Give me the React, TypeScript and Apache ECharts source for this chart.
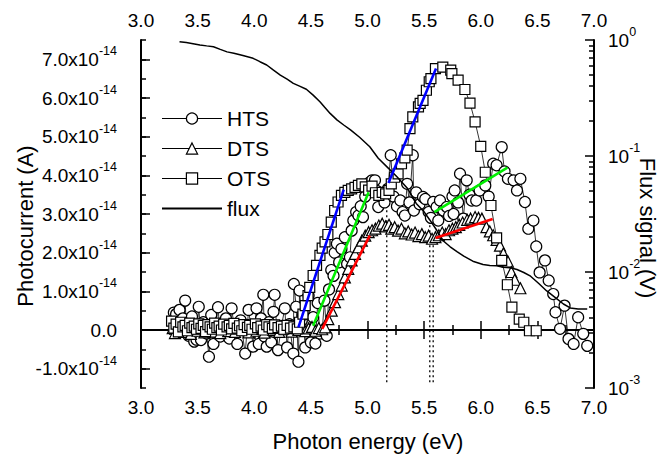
import React, { useEffect, useRef } from "react";
import * as echarts from "echarts";

const FONT = '"Liberation Sans", Arial, Helvetica, sans-serif';

// Photocurrent in units of 1e-14 A versus photon energy (eV)
const htsPoints: [number, number][] = [
  [3.29, 0.45], [3.31, 0.41], [3.33, 0.2], [3.34, 0.52], [3.37, 0.3], [3.39, 0.76], [3.4, 0.09], [3.42, -0.15],
  [3.45, 0.35], [3.47, -0.3], [3.49, -0.25], [3.51, 0.6], [3.53, -0.26], [3.55, 0.2], [3.58, -0.09], [3.6, -0.69],
  [3.62, 0.39], [3.64, -0.36], [3.66, 0.1], [3.68, 0.59], [3.7, -0.17], [3.72, 0.0], [3.75, 0.3], [3.78, -0.22],
  [3.8, 0.56], [3.82, 0.15], [3.85, -0.36], [3.88, 0.25], [3.92, -0.61], [3.95, 0.52], [3.97, 0.1], [3.99, -0.43],
  [4.02, 0.56], [4.04, -0.36], [4.06, 0.3], [4.08, 0.91], [4.09, -0.17], [4.11, -0.43], [4.13, 0.2], [4.15, -0.32],
  [4.17, 0.47], [4.18, 0.91], [4.21, -0.52], [4.24, 0.1], [4.27, 0.56], [4.29, -0.45], [4.31, 0.15], [4.345, -0.61],
  [4.35, 1.19], [4.37, 0.6], [4.39, -0.82], [4.4, 1.02], [4.42, 0.25], [4.43, 0.39], [4.45, -0.45], [4.48, 0.89],
  [4.5, -0.32], [4.52, 0.33], [4.54, -0.35], [4.56, 0.7], [4.58, -0.09], [4.6, -0.02], [4.62, 0.76], [4.64, -0.15],
  [4.66, 1.05], [4.68, 1.55], [4.7, 1.4], [4.71, 2.0], [4.73, 2.23], [4.75, 1.75], [4.77, 2.1], [4.8, 2.4],
  [4.82, 1.71], [4.845, 1.88], [4.86, 2.57], [4.875, 2.83], [4.9, 3.05], [4.92, 2.96], [4.94, 3.2], [4.96, 2.92],
  [4.98, 3.45], [5.0, 3.7], [5.02, 3.82], [5.04, 3.87], [5.066, 3.87], [5.08, 3.6], [5.095, 3.18], [5.12, 3.5],
  [5.15, 3.3], [5.18, 3.65], [5.205, 4.52], [5.23, 3.45], [5.26, 3.2], [5.29, 3.35], [5.31, 3.05], [5.33, 2.96],
  [5.35, 3.78], [5.37, 3.3], [5.4, 4.52], [5.41, 3.09], [5.43, 3.56], [5.46, 3.25], [5.49, 3.44], [5.51, 3.39],
  [5.54, 3.05], [5.56, 2.9], [5.58, 3.31], [5.61, 3.18], [5.625, 2.83], [5.64, 3.35], [5.67, 3.09], [5.7, 3.18],
  [5.72, 2.95], [5.75, 3.45], [5.76, 3.0], [5.77, 3.61], [5.8, 3.3], [5.817, 4.04], [5.846, 2.88], [5.876, 3.87],
  [5.9, 3.5], [5.92, 3.35], [5.96, 3.35], [5.99, 3.61], [6.04, 3.74], [6.07, 3.45], [6.11, 4.3], [6.14, 4.26],
  [6.185, 4.73], [6.21, 4.1], [6.24, 3.91], [6.29, 3.87], [6.32, 3.61], [6.35, 3.91], [6.39, 3.31], [6.42, 2.62],
  [6.465, 2.83], [6.49, 2.16], [6.52, 1.49], [6.567, 1.8], [6.6, 1.28], [6.64, 0.93], [6.66, 0.46], [6.7, 0.03],
  [6.74, 0.63], [6.775, -0.23], [6.82, -0.36], [6.86, 0.33], [6.905, -0.1], [6.94, -0.41],
];

const dtsPoints: [number, number][] = [
  [3.28, 0.05], [3.3, -0.08], [3.32, 0.1], [3.34, 0.0], [3.36, 0.12], [3.38, -0.05], [3.4, 0.08], [3.42, 0.02],
  [3.44, -0.1], [3.46, 0.06], [3.48, 0.12], [3.5, -0.02], [3.52, 0.04], [3.54, 0.1], [3.56, -0.06], [3.58, 0.08],
  [3.6, 0.0], [3.62, 0.13], [3.64, -0.04], [3.66, 0.06], [3.68, 0.1], [3.7, -0.08], [3.72, 0.03], [3.74, 0.09],
  [3.77, -0.03], [3.79, 0.07], [3.81, 0.11], [3.83, -0.05], [3.86, 0.04], [3.88, 0.09], [3.9, 0.0], [3.92, 0.12],
  [3.95, -0.06], [3.97, 0.05], [3.99, 0.08], [4.02, -0.02], [4.04, 0.1], [4.07, 0.03], [4.09, -0.07], [4.12, 0.06],
  [4.14, 0.11], [4.17, 0.0], [4.19, 0.04], [4.22, -0.05], [4.25, 0.08], [4.27, 0.02], [4.3, 0.1], [4.33, -0.04],
  [4.36, 0.05], [4.39, 0.0], [4.42, 0.07], [4.45, -0.03], [4.48, 0.04], [4.51, 0.08], [4.54, -0.02], [4.57, 0.05],
  [4.6, 0.02], [4.625, 0.07], [4.654, 0.28], [4.684, 0.5], [4.713, 0.72], [4.742, 0.93], [4.772, 1.15], [4.8, 1.36],
  [4.83, 1.58], [4.86, 1.8], [4.89, 1.97], [4.92, 2.14], [4.95, 2.31], [4.98, 2.44], [5.01, 2.53], [5.04, 2.58],
  [5.07, 2.62], [5.1, 2.7], [5.13, 2.75], [5.16, 2.68], [5.19, 2.72], [5.21, 2.62], [5.24, 2.66], [5.27, 2.57],
  [5.3, 2.62], [5.33, 2.5], [5.36, 2.55], [5.39, 2.47], [5.42, 2.52], [5.45, 2.43], [5.48, 2.48], [5.51, 2.4],
  [5.54, 2.44], [5.57, 2.36], [5.6, 2.4], [5.63, 2.45], [5.66, 2.52], [5.69, 2.48], [5.72, 2.58], [5.75, 2.62],
  [5.78, 2.66], [5.81, 2.72], [5.84, 2.78], [5.88, 2.85], [5.91, 2.88], [5.95, 2.92], [5.98, 2.9], [6.01, 2.88],
  [6.05, 2.66], [6.08, 2.55], [6.11, 2.45], [6.14, 2.33], [6.17, 2.18], [6.2, 1.98], [6.24, 1.77], [6.27, 1.5],
  [6.3, 1.3], [6.35, 1.08],
];

const otsPoints: [number, number][] = [
  [3.27, 0.23], [3.29, 0.05], [3.31, 0.15], [3.33, -0.05], [3.35, 0.2], [3.37, 0.08], [3.39, 0.12], [3.41, -0.02],
  [3.43, 0.18], [3.45, 0.06], [3.47, 0.1], [3.49, 0.02], [3.51, 0.16], [3.53, 0.04], [3.55, 0.12], [3.57, -0.04],
  [3.59, 0.14], [3.61, 0.08], [3.63, 0.02], [3.65, 0.18], [3.67, 0.06], [3.69, 0.1], [3.71, 0.0], [3.73, 0.15],
  [3.76, 0.08], [3.78, 0.12], [3.8, 0.03], [3.82, 0.17], [3.85, 0.05], [3.87, 0.11], [3.89, -0.02], [3.91, 0.14],
  [3.94, 0.07], [3.96, 0.12], [3.98, 0.02], [4.01, 0.16], [4.03, 0.06], [4.06, 0.1], [4.08, 0.0], [4.11, 0.14],
  [4.13, 0.08], [4.16, 0.04], [4.18, 0.13], [4.21, 0.06], [4.24, 0.1], [4.26, 0.02], [4.29, 0.12], [4.32, 0.05],
  [4.35, 0.08], [4.38, 0.03], [4.4, 0.2], [4.43, 0.41], [4.45, 0.63], [4.475, 0.89], [4.49, 1.1], [4.52, 1.41],
  [4.55, 1.67], [4.58, 1.93], [4.6, 2.12], [4.625, 2.28], [4.65, 2.47], [4.68, 2.79], [4.71, 3.09], [4.74, 3.31],
  [4.77, 3.48], [4.8, 3.56], [4.83, 3.61], [4.86, 3.65], [4.89, 3.69], [4.92, 3.74], [4.95, 3.78], [4.98, 3.7],
  [5.01, 3.62], [5.04, 3.72], [5.07, 3.55], [5.1, 3.48], [5.13, 3.56], [5.16, 3.52], [5.19, 3.61], [5.21, 3.78],
  [5.24, 3.95], [5.27, 4.04], [5.3, 4.3], [5.33, 4.45], [5.35, 4.65], [5.375, 5.21], [5.4, 5.51], [5.45, 5.77],
  [5.465, 5.86], [5.49, 5.94], [5.52, 6.2], [5.545, 6.42], [5.56, 6.5], [5.6, 6.76], [5.665, 6.8], [5.735, 6.72],
  [5.745, 6.63], [5.8, 6.46], [5.86, 6.22], [5.905, 5.87], [5.95, 5.38], [6.0, 4.75], [6.04, 4.08], [6.09, 3.22],
  [6.14, 2.38], [6.185, 1.8], [6.235, 1.17], [6.275, 0.59], [6.34, 0.28], [6.38, 0.2], [6.43, -0.02], [6.49, -0.02],
];

// Flux signal (V) versus photon energy (eV), right log axis
const fluxPoints: [number, number][] = [
  [3.34, 0.967], [3.4, 0.95], [3.46, 0.93], [3.52, 0.906], [3.58, 0.89], [3.64, 0.875], [3.7, 0.83], [3.76, 0.79],
  [3.82, 0.768], [3.9, 0.735], [3.99, 0.695], [4.05, 0.65], [4.11, 0.609], [4.17, 0.55], [4.23, 0.499], [4.29, 0.46],
  [4.345, 0.423], [4.4, 0.4], [4.46, 0.376], [4.52, 0.335], [4.58, 0.294], [4.62, 0.265], [4.67, 0.233], [4.73, 0.205],
  [4.79, 0.185], [4.85, 0.168], [4.93, 0.145], [5.02, 0.12], [5.095, 0.0955], [5.17, 0.081], [5.26, 0.0663], [5.35, 0.053],
  [5.43, 0.039], [5.5, 0.033], [5.55, 0.0281], [5.61, 0.023], [5.67, 0.0185], [5.73, 0.0165], [5.79, 0.015], [5.85, 0.0137],
  [5.93, 0.0124], [6.02, 0.0116], [6.08, 0.0114], [6.14, 0.0113], [6.2, 0.011], [6.26, 0.0109], [6.32, 0.0105], [6.38, 0.0099],
  [6.44, 0.0092], [6.51, 0.008], [6.58, 0.0069], [6.65, 0.0061], [6.73, 0.0053], [6.79, 0.0049], [6.86, 0.0048], [6.94, 0.0048],
];

// Linear fits (start and end point of each segment), in eV and 1e-14 A
const blueFits: [number, number][][] = [
  [[4.39, 0.07], [4.79, 3.63]],
  [[5.185, 3.8], [5.605, 6.76]],
];
const greenFits: [number, number][][] = [
  [[4.52, 0.11], [5.01, 3.56]],
  [[5.59, 3.05], [6.235, 4.2]],
];
const redFits: [number, number][][] = [
  [[4.6, 0.03], [5.02, 2.44]],
  [[5.6, 2.38], [6.105, 2.87]],
];

// Dotted threshold guides
const guideEnergies = [5.17, 5.55, 5.58];
const guideTops = [3.7, 3.0, 2.4];
const guideBottom = -1.35;

// Tick values
const currentMajorTicks = [-1, 0, 1, 2, 3, 4, 5, 6, 7];
const fluxDecades = [-3, -2, -1];
const fluxMinorMultiples = [2, 3, 4, 5, 6, 7, 8, 9];

const BLACK = "#000";
const axisLineStyle = { show: true, lineStyle: { color: BLACK, width: 2 } };
const tickLine = { color: BLACK, width: 1.5 };
const rich = {
  b: { fontSize: 19, fontFamily: FONT, color: BLACK },
  s: { fontSize: 12.5, fontFamily: FONT, color: BLACK, padding: [0, 0, 16, 0] },
};

function buildOption() {
  const fluxMinorValues = fluxDecades.flatMap((d) => fluxMinorMultiples.map((m) => d + Math.log10(m)));

  const xBase = (position: "top" | "bottom") => ({
    type: "value",
    position,
    min: 3,
    max: 7,
    interval: 0.5,
    axisLine: axisLineStyle,
    axisTick: { show: true, inside: true, length: 9, lineStyle: tickLine },
    minorTick: { show: true, splitNumber: 2, length: 5, lineStyle: tickLine },
    axisLabel: {
      color: BLACK,
      fontSize: 19,
      fontFamily: FONT,
      margin: 10,
      formatter: (v: number) => v.toFixed(1),
    },
    splitLine: { show: false },
    minorSplitLine: { show: false },
  });

  const markerSeries = (name: string, pts: [number, number][], symbol: string, size: number, z: number) => ({
    type: "line",
    name,
    data: pts,
    xAxisIndex: 0,
    yAxisIndex: 0,
    symbol,
    symbolSize: size,
    showSymbol: true,
    lineStyle: { color: BLACK, width: 0.8 },
    itemStyle: { color: "#fff", borderColor: BLACK, borderWidth: 1.2 },
    emphasis: { disabled: true },
    z,
  });

  const fitSeries = (fits: [number, number][][], color: string, key: string) =>
    fits.map((seg, k) => ({
      type: "line",
      name: key + k,
      data: seg,
      xAxisIndex: 0,
      yAxisIndex: 0,
      symbol: "none",
      lineStyle: { color, width: 2.6 },
      emphasis: { disabled: true },
      z: 5,
    }));

  return {
    animation: false,
    backgroundColor: "#fff",
    textStyle: { fontFamily: FONT },
    grid: { left: 141, right: 65, top: 40, bottom: 68, containLabel: false, outerBoundsMode: "none" },
    legend: {
      left: 161,
      top: 108,
      orient: "vertical",
      padding: 0,
      itemWidth: 60,
      itemHeight: 14,
      itemGap: 9,
      selectedMode: false,
      itemStyle: { borderWidth: 1.2 },
      lineStyle: { width: 1.2 },
      textStyle: { fontSize: 21, lineHeight: 21, color: BLACK, fontFamily: FONT },
      data: [
        "HTS",
        "DTS",
        "OTS",
        { name: "flux", itemStyle: { opacity: 0 }, lineStyle: { width: 2 } },
      ],
    },
    xAxis: [xBase("bottom"), xBase("top")],
    yAxis: [
      {
        type: "value",
        position: "left",
        min: -1.5,
        max: 7.5,
        interval: 0.5,
        axisLine: axisLineStyle,
        axisTick: { show: true, inside: true, length: 5, lineStyle: tickLine },
        axisLabel: {
          margin: 24,
          color: BLACK,
          fontSize: 19,
          fontFamily: FONT,
          rich,
          formatter: (v: number) => {
            if (Math.abs(v - Math.round(v)) > 1e-6) return "";
            if (Math.abs(v) < 1e-9) return "{b|0.0}";
            return `{b|${v.toFixed(1)}x10}{s|-14}`;
          },
        },
        splitLine: { show: false },
      },
      {
        type: "value",
        position: "left",
        min: -1.5,
        max: 7.5,
        axisLine: { show: false },
        axisTick: { show: true, inside: true, length: 9, lineStyle: tickLine, customValues: currentMajorTicks },
        axisLabel: { show: false },
        splitLine: { show: false },
      },
      {
        type: "log",
        logBase: 10,
        position: "right",
        min: 0.001,
        max: 1,
        splitNumber: 3,
        axisLine: axisLineStyle,
        axisTick: { show: true, inside: true, length: 9, lineStyle: tickLine },
        minorTick: { show: false },
        axisLabel: {
          margin: 14,
          color: BLACK,
          fontSize: 19,
          fontFamily: FONT,
          rich,
          formatter: (v: number) => `{b|10}{s|${Math.round(Math.log10(v))}}`,
        },
        splitLine: { show: false },
      },
      {
        type: "value",
        position: "right",
        min: -3,
        max: 0,
        axisLine: { show: false },
        axisTick: { show: true, inside: true, length: 5, lineStyle: tickLine, customValues: fluxMinorValues },
        axisLabel: { show: false },
        splitLine: { show: false },
      },
    ],
    graphic: [
      {
        type: "text",
        x: 25.5,
        y: 226,
        rotation: Math.PI / 2,
        style: { text: "Photocurrent (A)", fontSize: 22, fontFamily: FONT, fill: BLACK, align: "center", verticalAlign: "middle" },
      },
      {
        type: "text",
        x: 647.5,
        y: 228,
        rotation: -Math.PI / 2,
        style: { text: "Flux signal (V)", fontSize: 22, fontFamily: FONT, fill: BLACK, align: "center", verticalAlign: "middle" },
      },
      {
        type: "text",
        x: 368,
        y: 441,
        style: { text: "Photon energy (eV)", fontSize: 22, fontFamily: FONT, fill: BLACK, align: "center", verticalAlign: "middle" },
      },
    ],
    series: [
      ...guideEnergies.map((e, k) => ({
        type: "line",
        name: "guide" + k,
        data: [
          [e, guideBottom],
          [e, guideTops[k]],
        ],
        xAxisIndex: 0,
        yAxisIndex: 0,
        symbol: "none",
        lineStyle: { color: BLACK, width: 1.3, type: [2, 3] },
        emphasis: { disabled: true },
        z: 1,
      })),
      markerSeries("HTS", htsPoints, "circle", 11, 2),
      markerSeries("DTS", dtsPoints, "triangle", 11, 2),
      markerSeries("OTS", otsPoints, "rect", 10, 2),
      {
        type: "line",
        name: "flux",
        data: fluxPoints,
        xAxisIndex: 0,
        yAxisIndex: 2,
        symbol: "none",
        lineStyle: { color: BLACK, width: 1.5 },
        emphasis: { disabled: true },
        z: 3,
      },
      ...fitSeries(blueFits, "#0000ff", "blueFit"),
      ...fitSeries(greenFits, "#00ee00", "greenFit"),
      ...fitSeries(redFits, "#ff0000", "redFit"),
    ],
  };
}

export default function App() {
  const ref = useRef<HTMLDivElement>(null);
  useEffect(() => {
    document.body.style.margin = "0";
    const chart = echarts.init(ref.current!, null, { renderer: "svg" });
    chart.setOption(buildOption() as any);
    return () => chart.dispose();
  }, []);
  return <div ref={ref} style={{ width: 659, height: 456 }} />;
}
